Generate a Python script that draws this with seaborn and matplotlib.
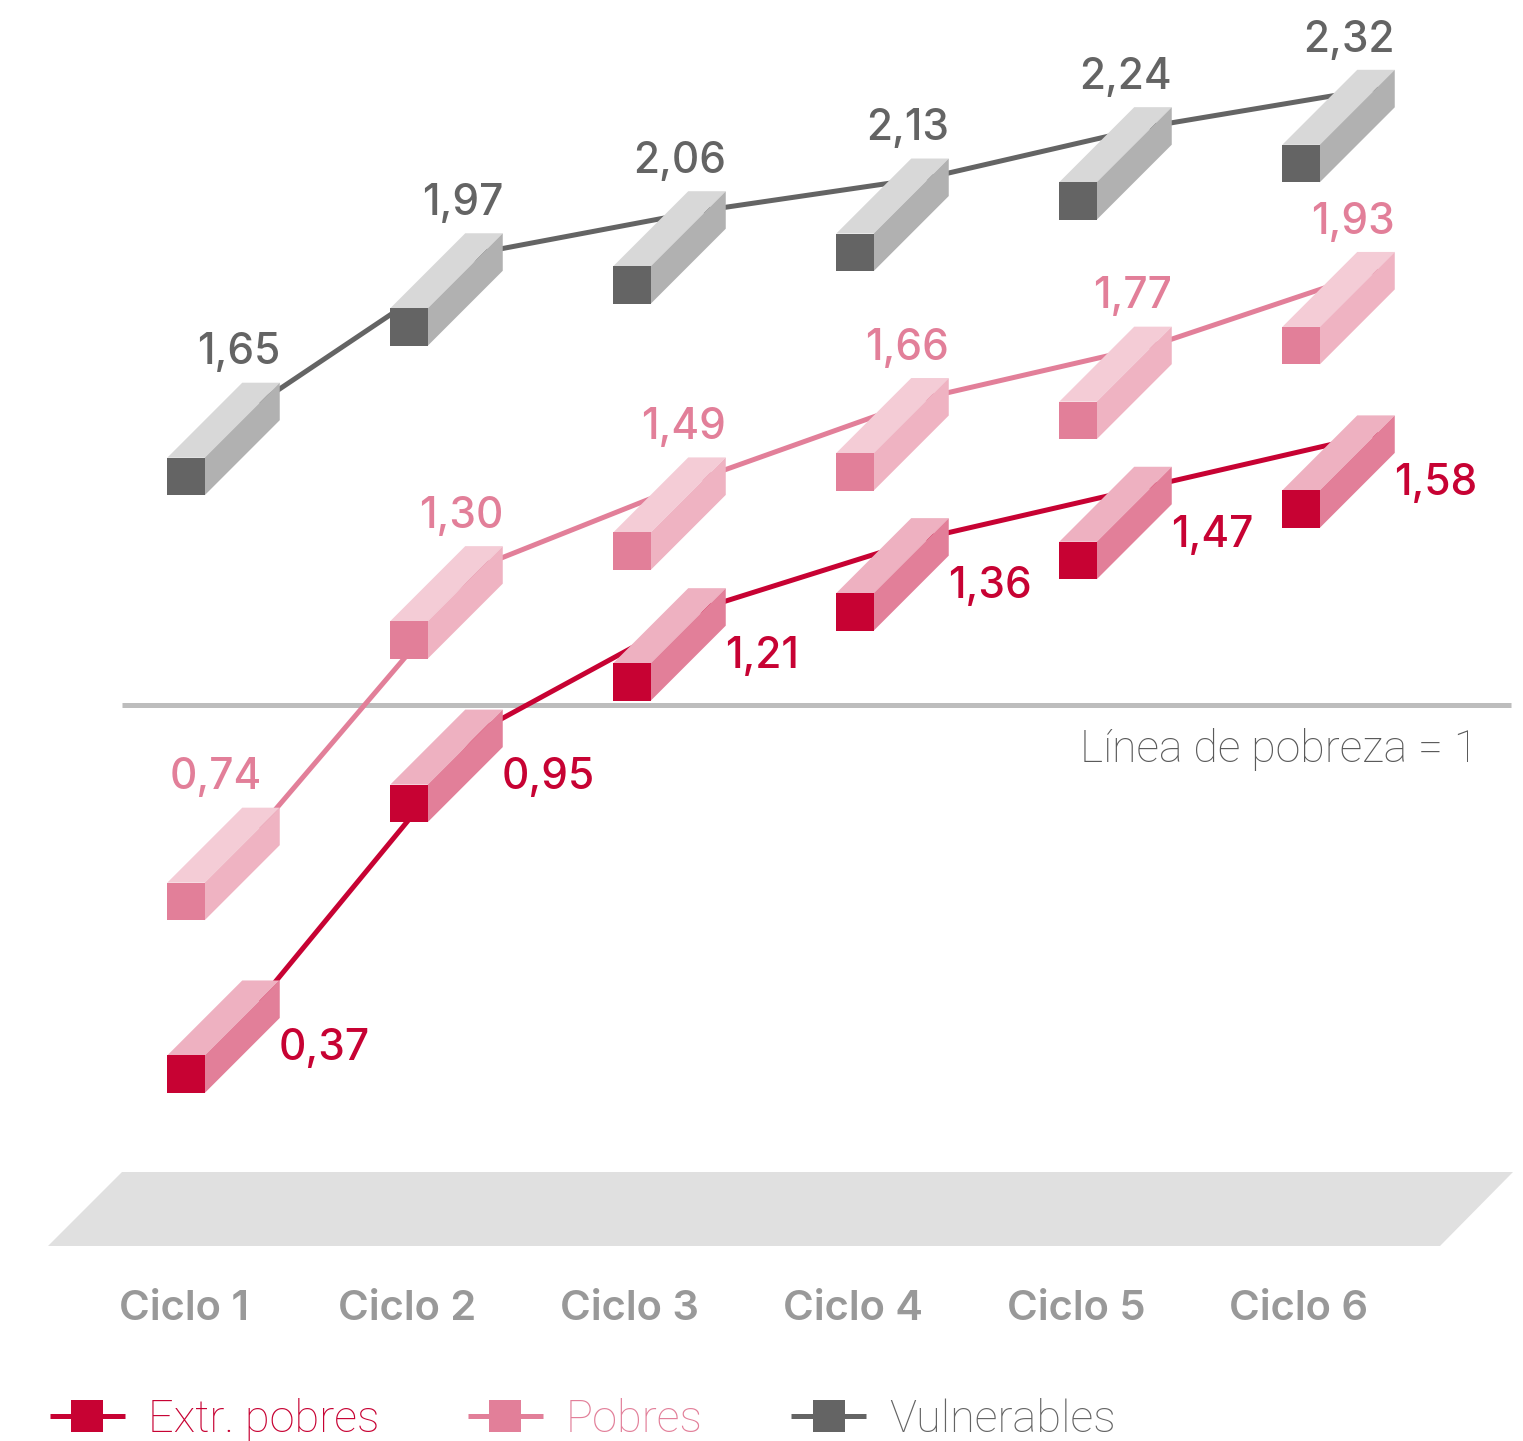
import pandas as pd
import matplotlib.pyplot as plt
from matplotlib.lines import Line2D
from matplotlib.patches import Polygon
import seaborn as sns

ciclos = ['Ciclo 1', 'Ciclo 2', 'Ciclo 3', 'Ciclo 4', 'Ciclo 5', 'Ciclo 6']
extr_pobres = [0.37, 0.95, 1.21, 1.36, 1.47, 1.58]
pobres = [0.74, 1.30, 1.49, 1.66, 1.77, 1.93]
vulnerables = [1.65, 1.97, 2.06, 2.13, 2.24, 2.32]
series_names = ['Extr. pobres', 'Pobres', 'Vulnerables']

# one axes over the whole figure, scale
W, H = 1523, 1441
PX_X = 223.0
PX_Y = 467.0
X0_PX = 261.0
Y1_PX = 705.0

# front, top, side
colors = {
    'Extr. pobres': ('#c70233', '#eeb1c1', '#e27f99'),
    'Pobres': ('#e27f99', '#f4ccd6', '#efb3c2'),
    'Vulnerables': ('#646464', '#d8d8d8', '#b1b1b1'),
}

sns.set_style('white')
plt.rcParams['font.family'] = ['Inter', 'DejaVu Sans']

fig = plt.figure(figsize=(W / 100, H / 100), dpi=100)
ax = fig.add_axes([0, 0, 1, 1])
ax.set_xlim(-X0_PX / PX_X, (W - X0_PX) / PX_X)
ax.set_ylim(1 - (H - Y1_PX) / PX_Y, 1 + Y1_PX / PX_Y)

depth_x = 75 / PX_X
depth_y = 75 / PX_Y
half_x = 18.75 / PX_X
half_y = 18.75 / PX_Y


def draw_bar(x, y, name):
    front, top, side = colors[name]
    fx = x - depth_x
    fy = y - depth_y
    l, r = fx - half_x, fx + half_x
    b, t = fy - half_y, fy + half_y
    dx, dy = depth_x, depth_y
    ax.add_patch(Polygon([(l, t), (r, t), (r + dx, t + dy), (l + dx, t + dy)], fc=top, lw=0, zorder=3))
    ax.add_patch(Polygon([(r, b), (r, t), (r + dx, t + dy), (r + dx, b + dy)], fc=side, lw=0, zorder=3))
    ax.add_patch(Polygon([(l, b), (r, b), (r, t), (l, t)], fc=front, lw=0, zorder=4))


df = pd.DataFrame({
    'x': list(range(6)) * 3,
    'valor': extr_pobres + pobres + vulnerables,
    'serie': ['Extr. pobres'] * 6 + ['Pobres'] * 6 + ['Vulnerables'] * 6,
})

# floor
floor_top = 1 - (1172 - Y1_PX) / PX_Y
floor_bot = 1 - (1246 - Y1_PX) / PX_Y
ax.add_patch(Polygon([((122 - X0_PX) / PX_X, floor_top), ((1513 - X0_PX) / PX_X, floor_top),
                      ((1440 - X0_PX) / PX_X, floor_bot), ((48 - X0_PX) / PX_X, floor_bot)],
                     fc='#e0e0e0', lw=0, zorder=1))

# poverty line
ax.plot([(122 - X0_PX) / PX_X, (1511 - X0_PX) / PX_X], [1, 1], color='#bdbdbd', lw=3.6,
        solid_capstyle='butt', zorder=1.5)
ax.text((1478 - X0_PX) / PX_X, 1 - (762 - Y1_PX) / PX_Y, 'Línea de pobreza = 1', ha='right', va='baseline',
        fontsize=32.2, family='Roboto', fontweight='light', color='#5a5a5a')

sns.lineplot(data=df, x='x', y='valor', hue='serie', hue_order=series_names,
             palette={k: v[0] for k, v in colors.items()}, linewidth=3.6, legend=False, ax=ax, zorder=2)

for name, vals in zip(series_names, [extr_pobres, pobres, vulnerables]):
    for i, v in enumerate(vals):
        draw_bar(i, v, name)
        label = f'{v:.2f}'.replace('.', ',')
        if name == 'Extr. pobres':
            ax.annotate(label, (i, v), xytext=(18, -61), textcoords='offset pixels', ha='left', va='baseline',
                        fontsize=30.5, fontweight='medium', color=colors[name][0], zorder=5)
        else:
            shift = -18 if label == '0,74' else 0
            ax.annotate(label, (i, v), xytext=(19 + shift, 37), textcoords='offset pixels', ha='right', va='baseline',
                        fontsize=30.5, fontweight='medium', color=colors[name][0], zorder=5)

# tick labels sit under the floor
ax.spines[['top', 'left', 'right', 'bottom']].set_visible(False)
ax.spines['bottom'].set_position(('data', floor_bot))
ax.set_yticks([])
ax.set_xticks([i - depth_x - 2 / PX_X for i in range(6)], ciclos)
ax.tick_params(axis='x', length=0, pad=32, labelsize=30, labelcolor='#999999')
for t in ax.get_xticklabels():
    t.set_fontweight('semibold')
ax.set_xlabel('')
ax.set_ylabel('')

handles = [Line2D([], [], color=colors[n][0], lw=3.6, marker='s', ms=23, mew=0, solid_capstyle='butt')
           for n in series_names]
leg = ax.legend(handles, series_names, loc='lower left', bbox_to_anchor=(50 / W, 0), borderaxespad=0,
                borderpad=0, ncols=3, frameon=False, prop={'size': 32.5, 'family': 'Roboto', 'weight': 'light'},
                handlelength=1.66, handletextpad=0.51, columnspacing=1.96)
for text, n in zip(leg.get_texts(), series_names):
    text.set_color(colors[n][0])

fig.savefig('out.png', dpi=100)
